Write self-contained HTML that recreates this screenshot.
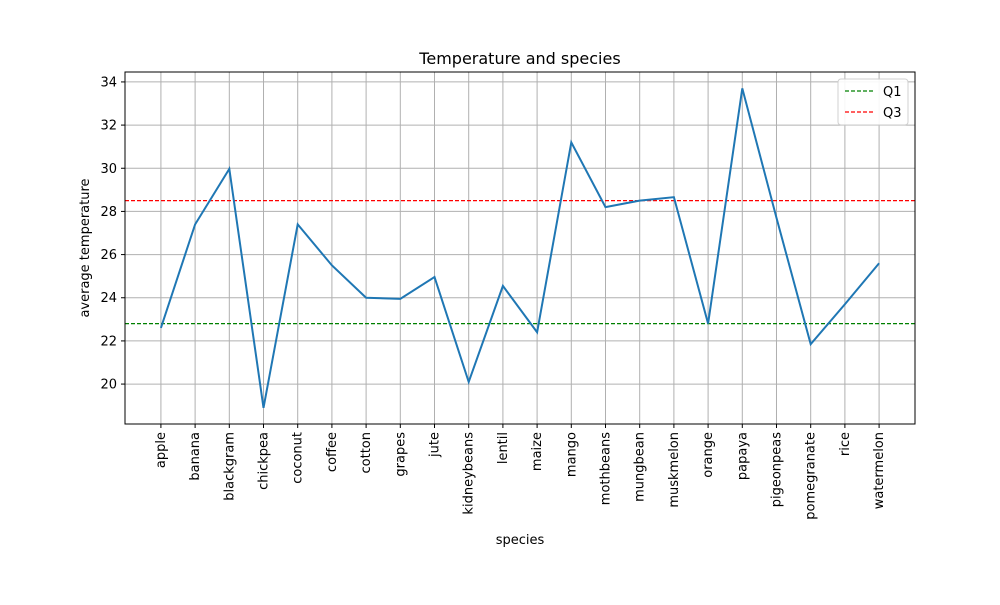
<!DOCTYPE html>
<html><head><meta charset="utf-8"><style>
body{margin:0;background:#fff;font-family:"Liberation Sans","DejaVu Sans",sans-serif}
</style></head><body>
<svg id="chart" width="1000" height="600" xmlns="http://www.w3.org/2000/svg" font-family="DejaVu Sans, Liberation Sans, sans-serif">
<rect width="1000" height="600" fill="#fff"/>
<g id="grid"></g><g id="ticks"></g><g id="lines"></g>
<rect x="125" y="72" width="790" height="352" fill="none" stroke="#000" stroke-width="1"/>
<text x="520" y="64" text-anchor="middle" font-size="16">Temperature and species</text>
<text x="520" y="544" text-anchor="middle" font-size="13">species</text>
<text x="89" y="248" text-anchor="middle" font-size="13" transform="rotate(-90 89 248)">average temperature</text>
<g>
<rect x="838" y="79" width="70" height="46" rx="3" fill="#fff" stroke="#ccc" opacity="0.9"/>
<line x1="845" y1="91" x2="873" y2="91" stroke="#008000" stroke-width="1.2" stroke-dasharray="4,2"/>
<text x="883" y="96" font-size="13">Q1</text>
<line x1="845" y1="112" x2="873" y2="112" stroke="#ff0000" stroke-width="1.2" stroke-dasharray="4,2"/>
<text x="883" y="117" font-size="13">Q3</text>
</g>
</svg>
<script>
const categories=["apple","banana","blackgram","chickpea","coconut","coffee","cotton","grapes","jute","kidneybeans","lentil","maize","mango","mothbeans","mungbean","muskmelon","orange","papaya","pigeonpeas","pomegranate","rice","watermelon"];
const temps=[22.6,27.4,29.97,18.9,27.4,25.5,24.0,23.95,24.96,20.1,24.55,22.4,31.2,28.2,28.5,28.66,22.8,33.7,27.7,21.85,23.7,25.6];
const q1=[22.8];
const q3=[28.5];
const yTicks=[20,22,24,26,28,30,32,34];
const NS="http://www.w3.org/2000/svg";
const L=125,R=915,T=72,B=424,ymin=18.15,ymax=34.46;
const xmin=-1.05,xmax=categories.length-1+1.05;
const xs=i=>L+(i-xmin)/(xmax-xmin)*(R-L);
const ys=v=>B-(v-ymin)/(ymax-ymin)*(B-T);
function mk(tag,attrs,parent,txt){const e=document.createElementNS(NS,tag);for(const k in attrs)e.setAttribute(k,attrs[k]);if(txt!=null)e.textContent=txt;document.getElementById(parent).appendChild(e);return e;}
categories.forEach((c,i)=>{const x=xs(i);
 let g=mk("line",{x1:x,x2:x,y1:T,y2:B,stroke:"#b0b0b0","stroke-width":1},"grid");
 
 
 let t=mk("line",{x1:x,x2:x,y1:B,y2:B+4,stroke:"#000"},"ticks");
 
 
 let l=mk("text",{x:0,y:0,"font-size":13,"text-anchor":"end",transform:`translate(${x+4},${B+8}) rotate(-90)`},"ticks",c);
 
 
});
yTicks.forEach(v=>{const y=ys(v);
 let g=mk("line",{x1:L,x2:R,y1:y,y2:y,stroke:"#b0b0b0","stroke-width":1},"grid");
 
 
 let t=mk("line",{x1:L-4,x2:L,y1:y,y2:y,stroke:"#000"},"ticks");
 
 
 let l=mk("text",{x:L-8,y:y+4.5,"font-size":13,"text-anchor":"end"},"ticks",v);
 
 
});
let a=mk("line",{x1:L,x2:R,y1:ys(q1[0]),y2:ys(q1[0]),stroke:"#008000","stroke-width":1.2,"stroke-dasharray":"4,2"},"lines");


let b=mk("line",{x1:L,x2:R,y1:ys(q3[0]),y2:ys(q3[0]),stroke:"#ff0000","stroke-width":1.2,"stroke-dasharray":"4,2"},"lines");


let p=mk("polyline",{points:temps.map((v,i)=>xs(i)+","+ys(v)).join(" "),fill:"none",stroke:"#1f77b4","stroke-width":2},"lines");


</script>
</body></html>
